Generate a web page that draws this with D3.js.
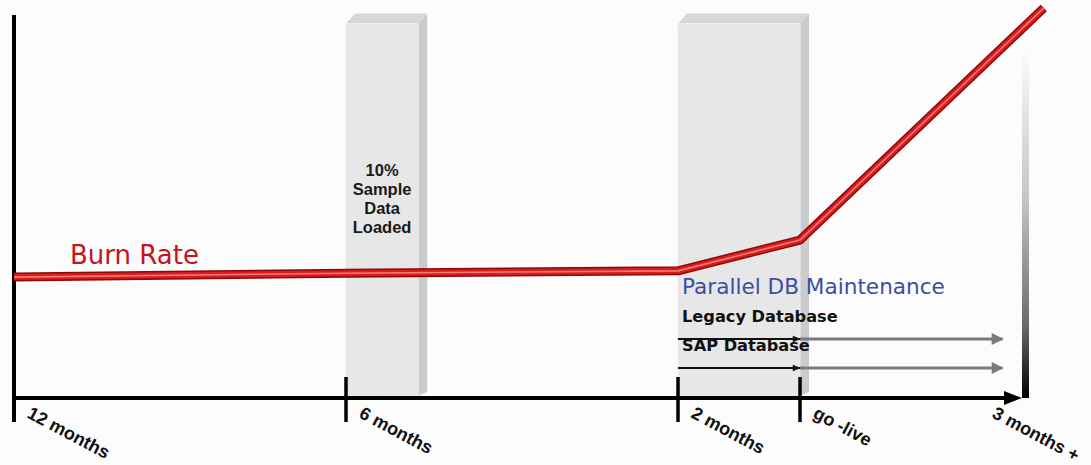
<!DOCTYPE html>
<html>
<head>
<meta charset="utf-8">
<script src="https://cdn.jsdelivr.net/npm/d3@7/dist/d3.min.js"></script>
<style>
  html, body { margin: 0; padding: 0; background: #fcfcfc; }
  svg { display: block; }
</style>
</head>
<body>
<script>
// ---------- data ----------
const milestoneLabels = ["12 months", "6 months", "2 months", "go -live", "3 months +"];
const milestoneMonths = [-12, -6, -2, 0, 3];

const burnMonths = [-12, -6, -2, 0, 3.25];
const burnValues = [31, 32, 32.6, 40.5, 100];

const phaseStart = [-6, -2];
const phaseEnd = [-5.13, 0];
const phaseLabels = [["10%", "Sample", "Data", "Loaded"], []];

const dbNames = ["Legacy Database", "SAP Database"];
const dbStart = -2, dbGoLive = 0, dbEnd = 2.7;

// ---------- layout ----------
const W = 1091, H = 465;
const axisY = 398;
const svg = d3.select("body").append("svg").attr("width", W).attr("height", H);

const x = d3.scaleLinear().domain(milestoneMonths).range([14, 346, 678, 800, 1025]);
const y = d3.scaleLinear().domain([0, 100]).range([axisY, 8]);

const defs = svg.append("defs");
const grad = defs.append("linearGradient").attr("id", "endGrad")
  .attr("x1", 0).attr("y1", 0).attr("x2", 0).attr("y2", 1);
grad.append("stop").attr("offset", "0%").attr("stop-color", "#ffffff");
grad.append("stop").attr("offset", "45%").attr("stop-color", "#c4c4c4");
grad.append("stop").attr("offset", "80%").attr("stop-color", "#6a6a6a");
grad.append("stop").attr("offset", "100%").attr("stop-color", "#000000");

defs.append("marker").attr("id", "arrBlack").attr("viewBox", "0 0 10 10")
  .attr("refX", 9).attr("refY", 5).attr("markerWidth", 4.5).attr("markerHeight", 4)
  .attr("markerUnits", "strokeWidth").attr("orient", "auto")
  .append("path").attr("d", "M0,1 L10,5 L0,9 Z").attr("fill", "#111");
defs.append("marker").attr("id", "arrGray").attr("viewBox", "0 0 10 10")
  .attr("refX", 9).attr("refY", 5).attr("markerWidth", 5).attr("markerHeight", 4)
  .attr("markerUnits", "strokeWidth").attr("orient", "auto")
  .append("path").attr("d", "M0,0 L10,5 L0,10 Z").attr("fill", "#7a7a7a");

// ---------- phase bars (3D boxes) ----------
const depthX = 9, depthY = 10, barTop = y(96);
phaseStart.forEach((s, i) => {
  const x0 = x(s), x1 = x(phaseEnd[i]);
  const g = svg.append("g");
  g.append("path")
    .attr("d", `M${x1},${barTop} L${x1 + depthX},${barTop - depthY} L${x1 + depthX},${axisY - 6} L${x1},${axisY - 2} Z`)
    .attr("fill", "#cbcbcb");
  g.append("path")
    .attr("d", `M${x0},${barTop} L${x0 + depthX},${barTop - depthY} L${x1 + depthX},${barTop - depthY} L${x1},${barTop} Z`)
    .attr("fill", "#d6d6d6");
  g.append("rect").attr("x", x0).attr("y", barTop).attr("width", x1 - x0).attr("height", axisY - barTop)
    .attr("fill", "#e7e7e7").attr("stroke", "#eeeeee").attr("stroke-width", 1);
  const cx = (x0 + x1) / 2;
  phaseLabels[i].forEach((t, j) => {
    g.append("text").attr("x", cx).attr("y", 176 + j * 19)
      .attr("text-anchor", "middle")
      .attr("font-family", "Liberation Sans, Arial, sans-serif")
      .attr("font-weight", "bold").attr("font-size", 16.5).attr("fill", "#1a1a1a")
      .text(t);
  });
});

// ---------- gradient end bar ----------
svg.append("rect").attr("x", x(3) - 3).attr("y", 40).attr("width", 7).attr("height", axisY - 40)
  .attr("fill", "url(#endGrad)");

// ---------- axes ----------
svg.append("line").attr("x1", x(-12)).attr("x2", x(-12)).attr("y1", 15).attr("y2", 422)
  .attr("stroke", "#000").attr("stroke-width", 4);
svg.append("line").attr("x1", x(-12)).attr("x2", 1010).attr("y1", axisY).attr("y2", axisY)
  .attr("stroke", "#000").attr("stroke-width", 4);
svg.append("path").attr("d", `M1004,${axisY - 7} L1022,${axisY} L1004,${axisY + 7} Z`).attr("fill", "#000");

milestoneMonths.slice(0, 4).forEach(m => {
  svg.append("line").attr("x1", x(m)).attr("x2", x(m)).attr("y1", 377).attr("y2", 422)
    .attr("stroke", "#000").attr("stroke-width", 3.5);
});

milestoneLabels.forEach((t, i) => {
  const off = i === milestoneLabels.length - 1 ? -34 : 12;
  const px = x(milestoneMonths[i]) + off, py = 417;
  svg.append("text").attr("transform", `translate(${px},${py}) rotate(28)`)
    .attr("font-family", "Liberation Sans, Arial, sans-serif")
    .attr("font-weight", "bold").attr("font-size", 18).attr("fill", "#111")
    .text(t);
});

// ---------- DB arrows ----------
const dbY = [339, 368];
dbNames.forEach((n, i) => {
  svg.append("text").attr("x", x(dbStart) + 4).attr("y", dbY[i] - 17)
    .attr("font-family", "DejaVu Sans, Verdana, sans-serif")
    .attr("font-weight", "bold").attr("font-size", 16.2).attr("fill", "#111")
    .text(n);
  svg.append("line").attr("x1", x(dbGoLive)).attr("x2", x(dbEnd)).attr("y1", dbY[i]).attr("y2", dbY[i])
    .attr("stroke", "#7a7a7a").attr("stroke-width", 3).attr("marker-end", "url(#arrGray)");
  svg.append("line").attr("x1", x(dbStart)).attr("x2", x(dbGoLive)).attr("y1", dbY[i]).attr("y2", dbY[i])
    .attr("stroke", "#111").attr("stroke-width", 2).attr("marker-end", "url(#arrBlack)");
});

svg.append("text").attr("x", x(dbStart) + 4).attr("y", 294)
  .attr("font-family", "DejaVu Sans, Verdana, sans-serif")
  .attr("font-size", 21.6).attr("fill", "#3b4ea3")
  .text("Parallel DB Maintenance");

// ---------- burn rate line ----------
const pts = burnMonths.map((m, i) => [x(m), y(burnValues[i])]);
const line = d3.line();
[["#8e0a0a", 9], ["#d91c1c", 6], ["#f27a7a", 1.6]].forEach(([c, w]) => {
  svg.append("path").attr("d", line(pts)).attr("fill", "none")
    .attr("stroke", c).attr("stroke-width", w).attr("stroke-linejoin", "round");
});

svg.append("text").attr("x", 70).attr("y", 264)
  .attr("font-family", "DejaVu Sans, Verdana, sans-serif")
  .attr("font-size", 26).attr("fill", "#c4141c")
  .text("Burn Rate");
</script>
</body>
</html>
